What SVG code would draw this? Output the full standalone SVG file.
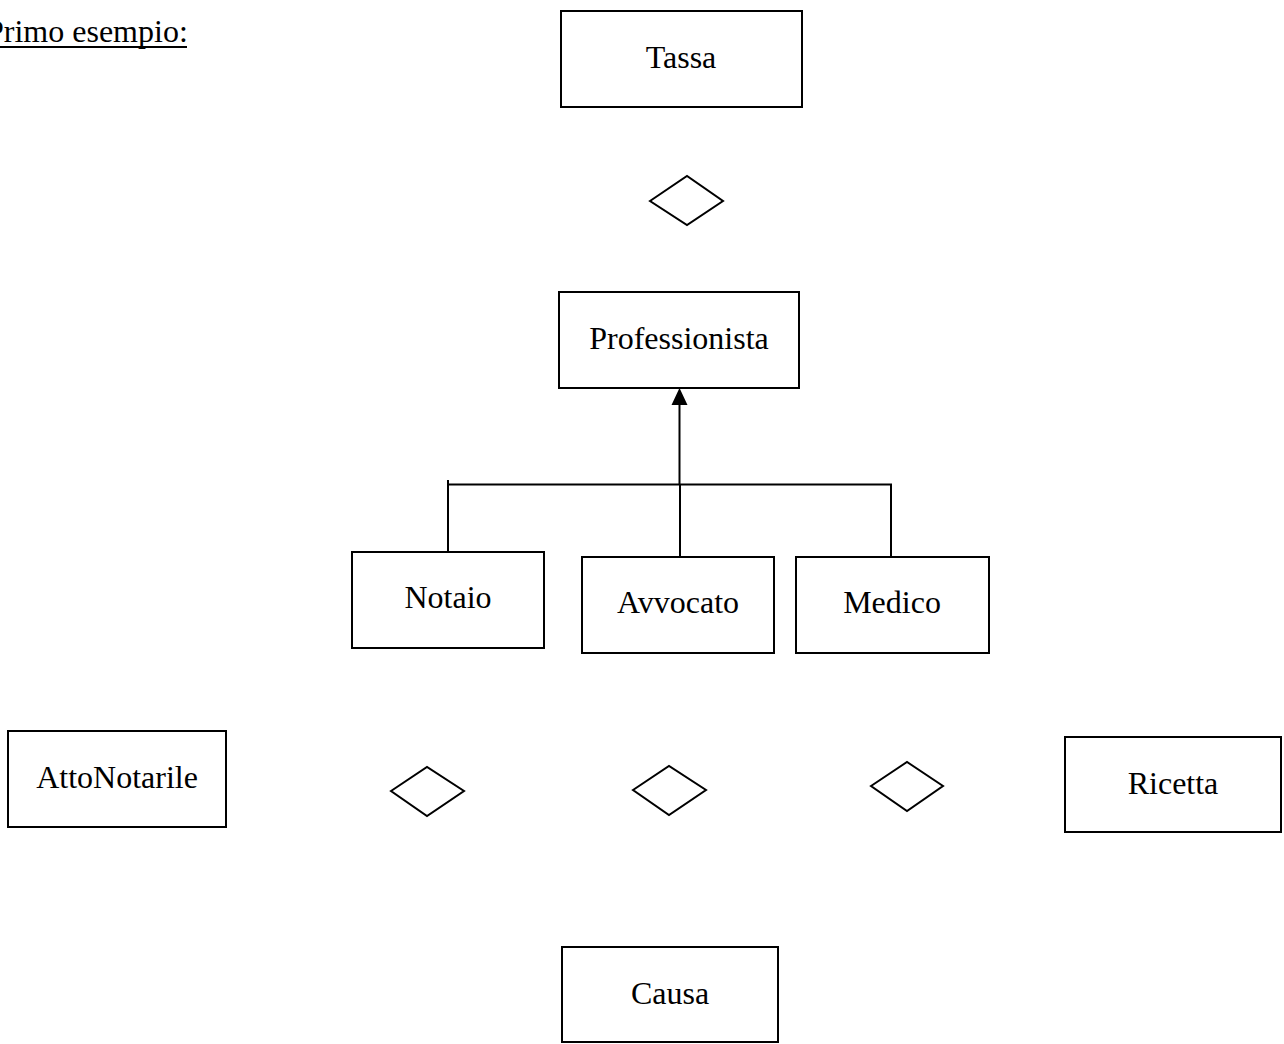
<svg xmlns="http://www.w3.org/2000/svg" width="1284" height="1044" viewBox="0 0 1284 1044">
<style>
.box{fill:#fff;stroke:#000;stroke-width:2}
.dia{fill:#fff;stroke:#000;stroke-width:2}
.lbl{font-family:"Liberation Serif","Times New Roman",serif;font-size:32px;fill:#000;text-anchor:middle}
.ln{fill:none;stroke:#000;stroke-width:2}
</style>
<rect width="1284" height="1044" fill="#fff"/>
<g id="title">
<text x="-14" y="42" style="font-family:'Liberation Serif','Times New Roman',serif;font-size:32px;fill:#000">Primo esempio:</text>
<line x1="0" y1="47" x2="187" y2="47" stroke="#000" stroke-width="2"/>
</g>
<g id="connectors">
<line class="ln" x1="679.5" y1="484" x2="679.5" y2="400" stroke-width="2.5"/>
<polygon points="679.5,388 671.5,405 687.5,405" fill="#000"/>
<polyline class="ln" points="448,480 448,552"/>
<line class="ln" x1="447" y1="484.5" x2="892" y2="484.5"/>
<line class="ln" x1="680" y1="484" x2="680" y2="557"/>
<line class="ln" x1="891" y1="484" x2="891" y2="557"/>
</g>
<g id="tassa"><rect class="box" x="561" y="11" width="241" height="96"/><text class="lbl" x="681" y="68">Tassa</text></g>
<g id="rel_top"><polygon class="dia" points="650,201 687,176 723,201 687,225"/></g>
<g id="professionista"><rect class="box" x="559" y="292" width="240" height="96"/><text class="lbl" x="679" y="349">Professionista</text></g>
<g id="notaio"><rect class="box" x="352" y="552" width="192" height="96"/><text class="lbl" x="448" y="608">Notaio</text></g>
<g id="avvocato"><rect class="box" x="582" y="557" width="192" height="96"/><text class="lbl" x="678" y="613">Avvocato</text></g>
<g id="medico"><rect class="box" x="796" y="557" width="193" height="96"/><text class="lbl" x="892" y="613">Medico</text></g>
<g id="attonotarile"><rect class="box" x="8" y="731" width="218" height="96"/><text class="lbl" x="117" y="788">AttoNotarile</text></g>
<g id="rel1"><polygon class="dia" points="391,791 427,767 464,791 427,816"/></g>
<g id="rel2"><polygon class="dia" points="633,790 669,766 706,790 669,815"/></g>
<g id="rel3"><polygon class="dia" points="871,786 907,762 943,786 907,811"/></g>
<g id="ricetta"><rect class="box" x="1065" y="737" width="216" height="95"/><text class="lbl" x="1173" y="794">Ricetta</text></g>
<g id="causa"><rect class="box" x="562" y="947" width="216" height="95"/><text class="lbl" x="670" y="1004">Causa</text></g>
</svg>
